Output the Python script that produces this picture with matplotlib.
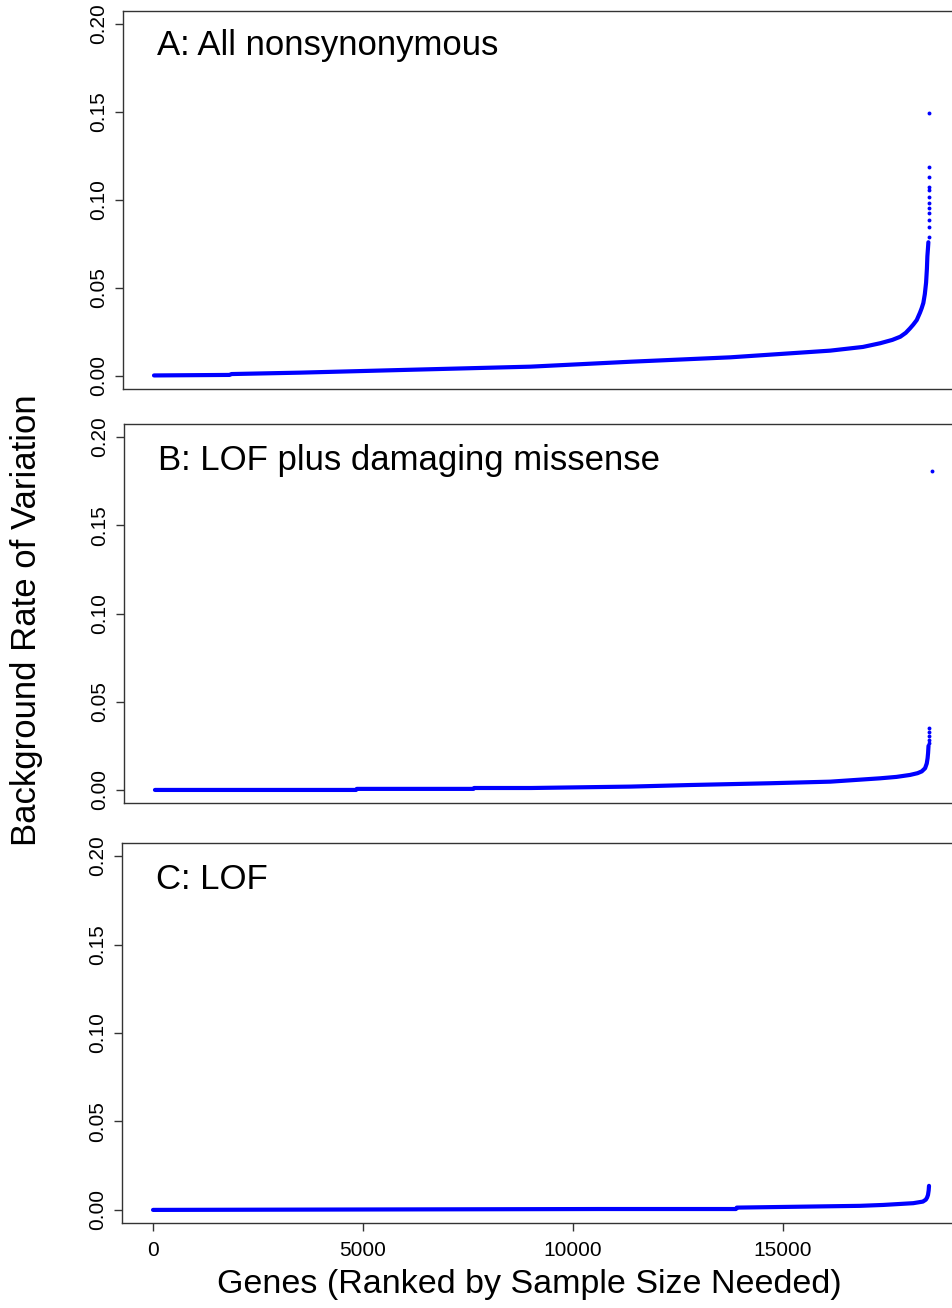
from typing import List

import matplotlib

matplotlib.use("Agg")
from matplotlib import pyplot as plt
from matplotlib.axes import Axes
from matplotlib.figure import Figure

# Panel A: all nonsynonymous (main ranked curve + sparse tail points)
rankA: List[int] = [1, 1800, 1850, 3500, 5900, 8980, 11360, 13740, 16120,
                    16900, 17310, 17600, 17790, 17920, 18020, 18100, 18183,
                    18260, 18300, 18340, 18375, 18405, 18425, 18436, 18450, 18460]
rateA: List[float] = [0.0003, 0.0006, 0.0011, 0.0019, 0.0034, 0.0053, 0.0081,
                      0.0106, 0.0144, 0.0165, 0.0186, 0.0205, 0.0223, 0.0245,
                      0.0270, 0.0292, 0.0318, 0.0360, 0.0385, 0.0415, 0.0465,
                      0.0530, 0.0610, 0.0680, 0.0725, 0.0760]
tailRankA: List[int] = [18464, 18465, 18466, 18467, 18468, 18469, 18470, 18471,
                        18472, 18473, 18474, 18476]
tailRateA: List[float] = [0.0791, 0.0848, 0.0886, 0.0924, 0.0952, 0.0981, 0.1015,
                          0.1057, 0.1076, 0.1129, 0.1189, 0.1492]

# Panel B: LOF plus damaging missense
rankB: List[int] = [1, 4800, 4820, 7600, 7620, 8980, 11360, 12790, 14690, 16120,
                    17310, 17700, 18020, 18200, 18300, 18380, 18420, 18440,
                    18452, 18462]
rateB: List[float] = [0.0000, 0.0000, 0.0006, 0.0006, 0.0011, 0.0011, 0.0019,
                      0.0028, 0.0038, 0.0047, 0.0066, 0.0074, 0.0085, 0.0095,
                      0.0105, 0.0123, 0.0150, 0.0180, 0.0210, 0.0250]
tailRankB: List[int] = [18466, 18467, 18468, 18469, 18470, 18540]
tailRateB: List[float] = [0.0265, 0.0284, 0.0303, 0.0326, 0.0350, 0.1810]

# Panel C: LOF
rankC: List[int] = [1, 10640, 13880, 13900, 16830, 17380, 18100, 18330, 18400,
                    18430, 18452, 18468, 18476]
rateC: List[float] = [0.0000, 0.0005, 0.0005, 0.0013, 0.0023, 0.0028, 0.0038,
                      0.0047, 0.0058, 0.0070, 0.0085, 0.0110, 0.0136]
tailRankC: List[int] = []
tailRateC: List[float] = []

titles: List[str] = ["A: All nonsynonymous", "B: LOF plus damaging missense", "C: LOF"]
titleY: List[float] = [0.1880, 0.1865, 0.1865]
yTicks: List[float] = [0.00, 0.05, 0.10, 0.15, 0.20]
xTicks: List[int] = [0, 5000, 10000, 15000]

BLUE = "#0000FF"
FONT = ["Liberation Sans", "DejaVu Sans"]


def drawPanel(ax: Axes, rank: List[int], rate: List[float], tailRank: List[int],
              tailRate: List[float], title: str, ty: float, showX: bool) -> None:
    ax.plot(rank, rate, color=BLUE, linewidth=3.0, solid_capstyle="round",
            solid_joinstyle="round")
    if tailRank:
        ax.plot(tailRank, tailRate, linestyle="none", marker="o", markersize=2.8,
                color=BLUE, markeredgewidth=0)

    ax.set_xlim(-738, 19452)
    ax.set_ylim(-0.0074, 0.2074)

    ax.set_yticks(yTicks)
    ax.set_yticklabels([f"{t:.2f}" for t in yTicks], rotation=90, va="center",
                       fontsize=15, family=FONT)
    ax.tick_params(axis="y", length=6, width=1.0, pad=5, color="#333333")

    if showX:
        ax.set_xticks(xTicks)
        ax.set_xticklabels([str(t) for t in xTicks], fontsize=15, family=FONT)
        ax.tick_params(axis="x", length=6, width=1.0, pad=7, color="#333333")
    else:
        ax.set_xticks([])

    for spine in ax.spines.values():
        spine.set_linewidth(1.0)
        spine.set_color("#333333")

    ax.text(70, ty, title, ha="left", va="center", fontsize=25, family=FONT)


def main() -> None:
    fig: Figure = plt.figure(figsize=(9.53, 13.08), dpi=100)
    W, H = 953.0, 1308.0
    right = 970.0
    boxes = [(11.0, 389.0, 123.0), (424.0, 803.0, 124.0), (843.0, 1223.0, 122.0)]
    data = [
        (rankA, rateA, tailRankA, tailRateA),
        (rankB, rateB, tailRankB, tailRateB),
        (rankC, rateC, tailRankC, tailRateC),
    ]

    for i, ((top, bottom, lft), (r, v, tr, tv)) in enumerate(zip(boxes, data)):
        ax: Axes = fig.add_axes(
            [lft / W, 1 - bottom / H, (right - lft) / W, (bottom - top) / H]
        )
        drawPanel(ax, r, v, tr, tv, titles[i], titleY[i], showX=(i == 2))

    fig.text(529 / W, 1 - 1284 / H, "Genes (Ranked by Sample Size Needed)",
             ha="center", va="center", fontsize=24.5, family=FONT)
    fig.text(27 / W, 1 - 620 / H, "Background Rate of Variation", rotation=90,
             ha="center", va="center", fontsize=25, family=FONT)

    fig.savefig("out.png", dpi=100)


if __name__ == "__main__":
    main()
